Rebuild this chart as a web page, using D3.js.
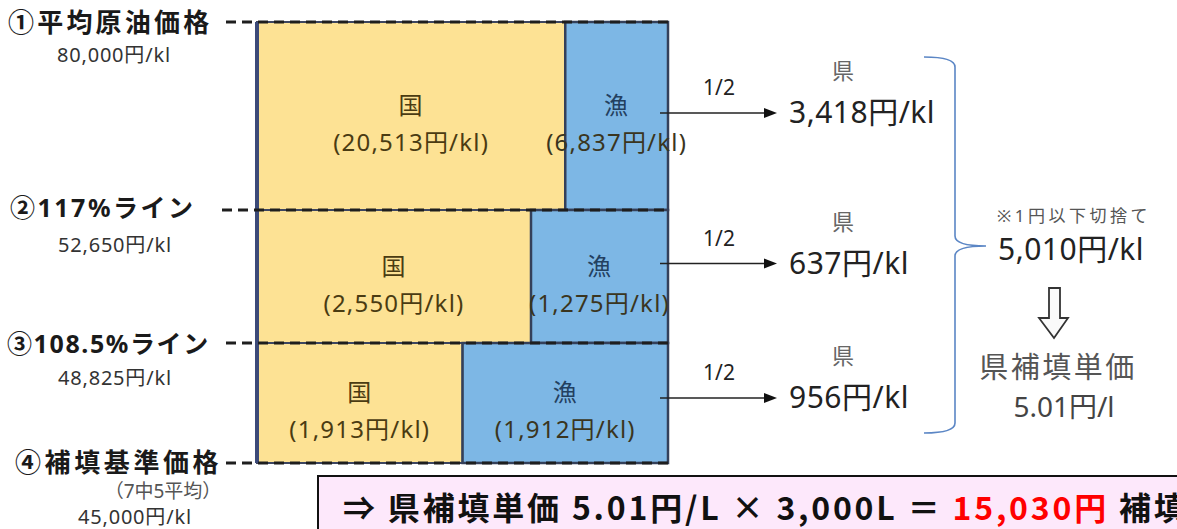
<!DOCTYPE html>
<html><head><meta charset="utf-8">
<script src="https://cdn.jsdelivr.net/npm/d3@7"></script>
<style>
html,body{margin:0;padding:0;background:#fff;}
svg{display:block;font-family:"Noto Sans","Noto Sans CJK JP",sans-serif;}
</style></head>
<body><svg id="c" width="1177" height="529"></svg>
<script>
// ---- data ----
const levelLabels = ["①平均原油価格", "②117%ライン", "③108.5%ライン", "④補填基準価格"];
const levelPrices = [80000, 52650, 48825, 45000];
const countryShare = [20513, 2550, 1913];
const fishShare = [6837, 1275, 1912];
const prefShare = [3418, 637, 956];
const prefTotal = 5010;       // 円/kl
const prefUnit = 5.01;        // 円/l
const volume = 3000;          // L
const subsidy = 15030;        // 円

// ---- layout ----
const svg = d3.select("#c");
const fmt = d3.format(",");
const L = 257, R = 668;
const y = d3.scaleLinear().domain(levelPrices).range([22, 210, 343, 463]);
const arrowDy = [-3, -13, -5];

const rows = countryShare.map((c, i) => ({
  c, f: fishShare[i], p: prefShare[i],
  top: levelPrices[i], bot: levelPrices[i + 1]
}));

rows.forEach((r, i) => {
  const x = d3.scaleLinear().domain([0, r.c + r.f]).range([L, R]);
  const y0 = y(r.top), y1 = y(r.bot);
  svg.append("rect").attr("x", x(0)).attr("y", y0).attr("width", x(r.c) - x(0)).attr("height", y1 - y0)
    .attr("fill", "#fde294").attr("stroke", "#3c4560").attr("stroke-width", 2);
  svg.append("rect").attr("x", x(r.c)).attr("y", y0).attr("width", x(r.c + r.f) - x(r.c)).attr("height", y1 - y0)
    .attr("fill", "#7db7e5").attr("stroke", "#34405a").attr("stroke-width", 2.5);
  const cy = (y0 + y1) / 2;
  const cxC = (x(0) + x(r.c)) / 2, cxF = (x(r.c) + x(r.c + r.f)) / 2;
  const g = svg.append("g").attr("font-size", 24).attr("letter-spacing", 1.2);
  g.append("text").attr("x", cxC).attr("y", cy - 2).attr("text-anchor", "middle").attr("fill", "#4a3b12").text("国");
  g.append("text").attr("x", cxC).attr("y", cy + 35).attr("text-anchor", "middle").attr("fill", "#4a3b12").text("(" + fmt(r.c) + "円/kl)");
  g.append("text").attr("x", cxF).attr("y", cy - 2).attr("text-anchor", "middle").attr("fill", "#23405f").text("漁");
  g.append("text").attr("x", cxF).attr("y", cy + 35).attr("text-anchor", "middle").attr("fill", "#3a3520").text("(" + fmt(r.f) + "円/kl)");

  const ay = cy + arrowDy[i];
  svg.append("line").attr("x1", 660).attr("x2", 765).attr("y1", ay).attr("y2", ay).attr("stroke", "#222").attr("stroke-width", 1.3);
  svg.append("path").attr("d", `M764,${ay - 5}L777,${ay}L764,${ay + 5}Z`).attr("fill", "#111");
  svg.append("text").attr("x", 719).attr("y", ay - 18).attr("text-anchor", "middle").attr("font-size", 21).attr("fill", "#222").text("1/2");
  svg.append("text").attr("x", 843).attr("y", ay - 34).attr("text-anchor", "middle").attr("font-size", 22).attr("fill", "#666").text("県");
  svg.append("text").attr("x", 789).attr("y", ay + 10).attr("font-size", 30).attr("letter-spacing", 0.5).attr("fill", "#222").text(fmt(r.p) + "円/kl");
});

svg.append("line").attr("x1", L).attr("x2", L).attr("y1", y(levelPrices[0])).attr("y2", y(levelPrices[3]))
  .attr("stroke", "#3c4a78").attr("stroke-width", 4);

// level lines & labels
const labelX = [8, 10, 7, 15];
const labelBase = [32, 217, 353, 472];
const labelFS = [26, 25, 25, 26];
const labelLS = [3.2, 2.5, 1.6, 3.6];
const labelW = ["600", "700", "700", "600"];
const dashStart = [226, 222, 226, 226];
levelPrices.forEach((p, i) => {
  const yy = y(p);
  svg.append("line").attr("x1", dashStart[i]).attr("x2", R).attr("y1", yy).attr("y2", yy)
    .attr("stroke", "#1e1e1e").attr("stroke-width", 3).attr("stroke-dasharray", "10,6");
  svg.append("text").attr("x", labelX[i]).attr("y", labelBase[i]).attr("font-size", labelFS[i]).attr("font-weight", labelW[i])
    .attr("letter-spacing", labelLS[i]).attr("fill", "#1a1a1a").text(levelLabels[i]);
});
const subY = [62, 252, 385, 524];
const subX = [57, 58, 58, 78];
levelPrices.forEach((p, i) => {
  svg.append("text").attr("x", subX[i]).attr("y", subY[i]).attr("font-size", 20).attr("letter-spacing", 0.8).attr("fill", "#333").text(fmt(p) + "円/kl");
});
svg.append("text").attr("x", 163).attr("y", 498).attr("text-anchor", "middle").attr("font-size", 19).attr("fill", "#555").text("（7中5平均）");

// brace
svg.append("path")
  .attr("d", "M924,57 Q955,57 955,67 L955,236 Q955,246 986,246 Q955,246 955,256 L955,423 Q955,433 924,433")
  .attr("fill", "none").attr("stroke", "#5b86c5").attr("stroke-width", 1.6);

svg.append("text").attr("x", 997).attr("y", 222).attr("font-size", 17).attr("letter-spacing", 3.5).attr("fill", "#555").text("※1円以下切捨て");
svg.append("text").attr("x", 998).attr("y", 260).attr("font-size", 30).attr("letter-spacing", 0.5).attr("fill", "#222").text(fmt(prefTotal) + "円/kl");

// down arrow
svg.append("path").attr("d", "M1049,288 L1060,288 L1060,318 L1068,318 L1054,338 L1039,318 L1049,318 Z")
  .attr("fill", "#fafafa").attr("stroke", "#333").attr("stroke-width", 1.8);
svg.append("text").attr("x", 1058).attr("y", 378).attr("text-anchor", "middle").attr("font-size", 29).attr("letter-spacing", 2.5).attr("fill", "#555").text("県補填単価");
svg.append("text").attr("x", 1064).attr("y", 417).attr("text-anchor", "middle").attr("font-size", 28).attr("fill", "#444").text(d3.format(".2f")(prefUnit) + "円/l");

// bottom formula box
svg.append("rect").attr("x", 318).attr("y", 476).attr("width", 900).attr("height", 70)
  .attr("fill", "#fde8fb").attr("stroke", "#111").attr("stroke-width", 2);
const t = svg.append("text").attr("x", 343).attr("y", 520).attr("font-size", 32).attr("font-weight", "700")
  .attr("letter-spacing", 2.8).attr("fill", "#111").attr("font-family", "'Noto Sans CJK JP',sans-serif");
t.append("tspan").text("⇒ 県補填単価 " + d3.format(".2f")(prefUnit) + "円/L × " + fmt(volume) + "L ＝ ");
t.append("tspan").attr("fill", "#ff0000").text(fmt(subsidy) + "円");
t.append("tspan").text(" 補填");
</script></body></html>
